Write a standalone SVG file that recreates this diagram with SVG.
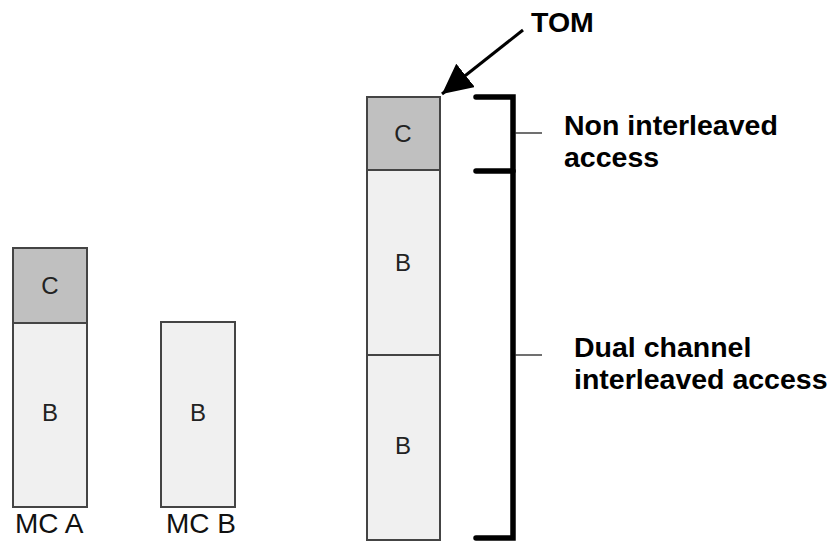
<svg xmlns="http://www.w3.org/2000/svg" width="832" height="541" viewBox="0 0 832 541">
<defs>
<style>
.c{fill:#c0c0c0;stroke:#444;stroke-width:2}
.b{fill:#f0f0f0;stroke:#444;stroke-width:2}
.lbl{font-family:"Liberation Sans",Arial,sans-serif;font-size:24px;fill:#222;text-anchor:middle}
.mc{font-family:"Liberation Sans",Arial,sans-serif;font-size:28px;fill:#111}
.bold{font-family:"Liberation Sans",Arial,sans-serif;font-size:28.5px;font-weight:bold;fill:#000}
.br{fill:none;stroke:#000;stroke-width:5.5;stroke-linecap:round;stroke-linejoin:miter}
.tick{stroke:#222;stroke-width:1.3}
</style>
<marker id="ah" markerWidth="10" markerHeight="10" refX="10" refY="5" orient="auto" markerUnits="strokeWidth">
<path d="M0,0 L10,5 L0,10 z" fill="#000"/>
</marker>
</defs>
<rect width="832" height="541" fill="#fff"/>
<g id="mcA">
<rect class="c" x="13" y="248" width="74" height="75"/>
<rect class="b" x="13" y="323" width="74" height="184"/>
<text class="lbl" x="50" y="294">C</text>
<text class="lbl" x="50" y="421">B</text>
<text class="mc" x="15" y="533">MC A</text>
</g>
<g id="mcB">
<rect class="b" x="161" y="322" width="74" height="185"/>
<text class="lbl" x="198" y="421">B</text>
<text class="mc" x="166" y="533">MC B</text>
</g>
<g id="combined">
<rect class="c" x="367" y="97" width="73" height="73"/>
<rect class="b" x="367" y="170" width="73" height="185"/>
<rect class="b" x="367" y="355" width="73" height="185"/>
<text class="lbl" x="403" y="142">C</text>
<text class="lbl" x="403" y="271">B</text>
<text class="lbl" x="403" y="454">B</text>
</g>
<g id="tom">
<text class="bold" x="531" y="32">TOM</text>
</g>
<g id="nonInterleaved">
<text class="bold" x="564" y="135">Non interleaved</text>
<text class="bold" x="564" y="167">access</text>
</g>
<g id="dualChannel">
<text class="bold" x="574" y="357">Dual channel</text>
<text class="bold" x="574" y="389">interleaved access</text>
</g>
<g id="connectors">
<line x1="523" y1="30" x2="442" y2="94" stroke="#000" stroke-width="3" marker-end="url(#ah)"/>
<path class="br" d="M476,97 H513 V538 H476"/>
<path class="br" d="M476,171 H513"/>
<line class="tick" x1="515" y1="133" x2="542" y2="133"/>
<line class="tick" x1="515" y1="355" x2="542" y2="355"/>
</g>
</svg>
